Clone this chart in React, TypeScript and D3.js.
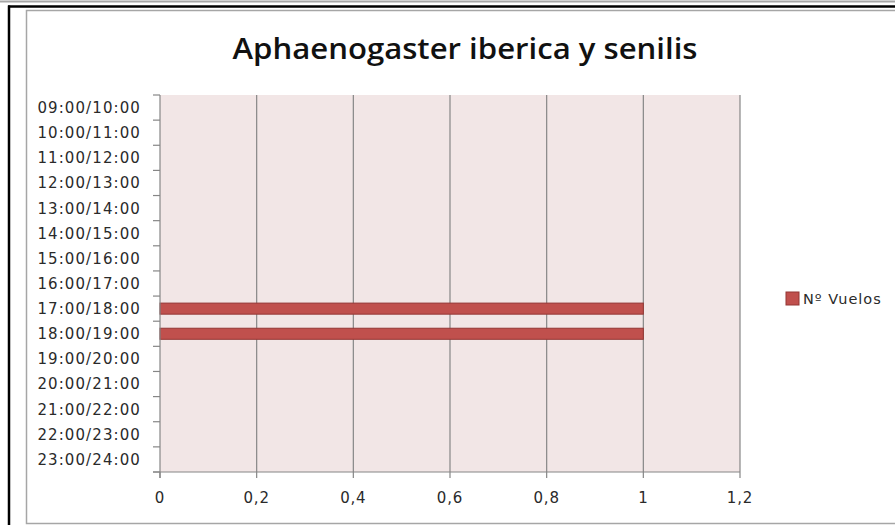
import React from "react";
import * as d3 from "d3";

const categories: string[] = [
  "09:00/10:00",
  "10:00/11:00",
  "11:00/12:00",
  "12:00/13:00",
  "13:00/14:00",
  "14:00/15:00",
  "15:00/16:00",
  "16:00/17:00",
  "17:00/18:00",
  "18:00/19:00",
  "19:00/20:00",
  "20:00/21:00",
  "21:00/22:00",
  "22:00/23:00",
  "23:00/24:00",
];
const vuelos: number[] = [0, 0, 0, 0, 0, 0, 0, 0, 1, 1, 0, 0, 0, 0, 0];
const xTicks: number[] = [0, 0.2, 0.4, 0.6, 0.8, 1, 1.2];
const seriesName = "Nº Vuelos";
const title = "Aphaenogaster iberica y senilis";

export default function App() {
  const W = 895;
  const H = 525;
  const left = 160;
  const right = 740;
  const top = 95;
  const bottom = 472;

  const x = d3.scaleLinear().domain([0, 1.2]).range([left, right]);
  const y = d3.scaleBand<string>().domain(categories).range([top, bottom]).padding(0);
  const barH = y.bandwidth() * 0.44;
  const fmt = (v: number) => String(+v.toFixed(1)).replace(".", ",");

  const grid = "#868686";
  const labelFont = "'DejaVu Sans', sans-serif";
  const boundaries = categories.map((c) => y(c) as number).concat([bottom]);

  return (
    <svg
      width={W}
      height={H}
      style={{ position: "absolute", left: 0, top: 0, background: "#fff" }}
    >
      {/* outer document frame */}
      <line x1={0} x2={W} y1={1.5} y2={1.5} stroke="#a6a6a6" strokeWidth={2} />
      <line x1={8} x2={W} y1={6.5} y2={6.5} stroke="#000" strokeWidth={2.5} />
      <line x1={9} x2={9} y1={5.5} y2={H} stroke="#000" strokeWidth={2.5} />
      {/* chart border */}
      <rect x={26.5} y={10.5} width={W} height={513} fill="#fff" stroke="#a6a6a6" strokeWidth={1.5} />

      {/* title */}
      <text
        x={465}
        y={59}
        textAnchor="middle"
        fontFamily="'Open Sans', sans-serif"
        fontWeight={600}
        fontSize={29}
        fill="#111"
        textLength={465}
        lengthAdjust="spacingAndGlyphs"
      >
        {title}
      </text>

      {/* plot area */}
      <rect x={left} y={top} width={right - left} height={bottom - top} fill="#f2e6e6" />

      {/* vertical gridlines */}
      {xTicks.slice(1).map((t) => (
        <line key={"g" + t} x1={x(t)} x2={x(t)} y1={top} y2={bottom} stroke={grid} strokeWidth={1.2} />
      ))}

      {/* bars */}
      {categories.map((c, i) =>
        vuelos[i] > 0 ? (
          <rect
            key={"b" + c}
            x={x(0)}
            y={(y(c) as number) + (y.bandwidth() - barH) / 2}
            width={x(vuelos[i]) - x(0)}
            height={barH}
            fill="#c0504d"
            stroke="#943634"
            strokeWidth={1}
          />
        ) : null
      )}

      {/* axes */}
      <line x1={left} x2={left} y1={top} y2={bottom + 6} stroke={grid} strokeWidth={1.2} />
      <line x1={left - 7} x2={right} y1={bottom} y2={bottom} stroke={grid} strokeWidth={1.2} />
      {boundaries.map((b, i) => (
        <line key={"yt" + i} x1={left - 7} x2={left} y1={b} y2={b} stroke={grid} strokeWidth={1.2} />
      ))}
      {xTicks.map((t) => (
        <line key={"xt" + t} x1={x(t)} x2={x(t)} y1={bottom} y2={bottom + 6} stroke={grid} strokeWidth={1.2} />
      ))}

      {/* y labels */}
      {categories.map((c) => (
        <text
          key={"yl" + c}
          x={141}
          y={(y(c) as number) + y.bandwidth() / 2}
          dy="0.36em"
          textAnchor="end"
          fontFamily={labelFont}
          fontSize={15}
          letterSpacing={1.1}
          fill="#2a2a2a"
        >
          {c}
        </text>
      ))}

      {/* x labels */}
      {xTicks.map((t) => (
        <text
          key={"xl" + t}
          x={x(t)}
          y={503}
          textAnchor="middle"
          fontFamily={labelFont}
          fontSize={15}
          letterSpacing={0.8}
          fill="#2a2a2a"
        >
          {fmt(t)}
        </text>
      ))}

      {/* legend */}
      <rect x={786} y={292} width={13} height={13} fill="#c0504d" stroke="#943634" strokeWidth={1} />
      <text
        x={803}
        y={298.5}
        dy="0.36em"
        fontFamily={labelFont}
        fontSize={14.5}
        letterSpacing={1}
        fill="#2a2a2a"
      >
        {seriesName}
      </text>
    </svg>
  );
}
